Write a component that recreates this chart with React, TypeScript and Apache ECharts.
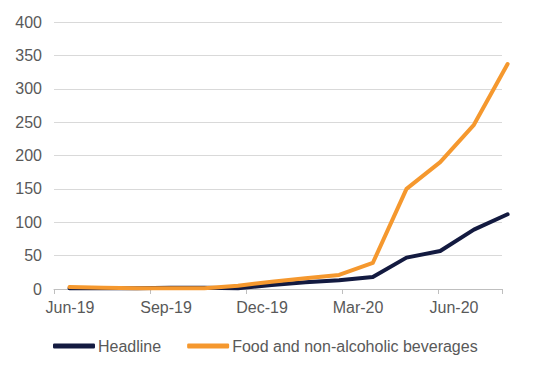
import React, { useEffect, useRef } from "react";
import * as echarts from "echarts";

const months = [
  "Jun-19", "Jul-19", "Aug-19", "Sep-19", "Oct-19", "Nov-19", "Dec-19",
  "Jan-20", "Feb-20", "Mar-20", "Apr-20", "May-20", "Jun-20", "Jul-20",
];
const headline = [1, 1, 1, 2, 2, 1, 6, 10, 13, 18, 47, 57, 89, 112];
const food = [3, 2, 1, 1, 1, 5, 11, 16, 21, 39, 150, 190, 246, 337];
const seriesNames = ["Headline", "Food and non-alcoholic beverages"];
const colors = ["#131A40", "#F5982E"];

export default function App() {
  const ref = useRef<HTMLDivElement>(null);
  useEffect(() => {
    if (!ref.current) return;
    const chart = echarts.init(ref.current, null, { renderer: "svg" });
    const font = "'Liberation Sans', Arial, sans-serif";
    const toPts = (arr: number[]) => arr.map((v, i) => [i, v]);
    const step = 33.7;
    const left = 54;
    const wideRight = 20;
    const xmin = -(69.5 - left) / step;
    const xmax = xmin + (547 - left - wideRight) / step;
    chart.setOption({
      animation: false,
      textStyle: { fontFamily: font },
      grid: [
        { left: left, right: 45, top: 22, bottom: 86, containLabel: false },
        { left: left, right: wideRight, top: 22, bottom: 86, containLabel: false },
      ],
      legend: {
        left: 53,
        top: 338,
        padding: 0,
        itemWidth: 42,
        itemHeight: 5,
        itemGap: 26,
        icon: "roundRect",
        textStyle: { color: "#595959", fontSize: 16, fontFamily: font, padding: [0, 0, 0, -2] },
        data: seriesNames,
      },
      xAxis: [
        {
          type: "category",
          gridIndex: 0,
          data: months,
          boundaryGap: true,
          axisLine: { lineStyle: { color: "#BFBFBF", width: 1 } },
          axisTick: { show: true, interval: 2, length: 5, lineStyle: { color: "#BFBFBF" } },
          axisLabel: { interval: 2, color: "#595959", fontSize: 16, fontFamily: font, margin: 10 },
          splitLine: { show: false },
        },
        {
          type: "value",
          gridIndex: 1,
          min: xmin,
          max: xmax,
          show: false,
          splitLine: { show: false },
        },
      ],
      yAxis: [
        {
          type: "value",
          gridIndex: 0,
          min: 0,
          max: 400,
          interval: 50,
          axisLine: { show: false },
          axisTick: { show: false },
          axisLabel: { color: "#595959", fontSize: 16, fontFamily: font, margin: 12 },
          splitLine: { lineStyle: { color: "#D9D9D9", width: 1 } },
        },
        {
          type: "value",
          gridIndex: 1,
          min: 0,
          max: 400,
          interval: 50,
          show: false,
          splitLine: { show: false },
        },
      ],
      series: [
        {
          name: seriesNames[0],
          type: "line",
          xAxisIndex: 1,
          yAxisIndex: 1,
          data: toPts(headline),
          symbol: "none",
          color: colors[0],
          lineStyle: { width: 4, color: colors[0], cap: "round", join: "round" },
        },
        {
          name: seriesNames[1],
          type: "line",
          xAxisIndex: 1,
          yAxisIndex: 1,
          data: toPts(food),
          symbol: "none",
          color: colors[1],
          lineStyle: { width: 4, color: colors[1], cap: "round", join: "round" },
        },
      ],
    });
    return () => chart.dispose();
  }, []);
  return <div ref={ref} style={{ width: 547, height: 375, position: "absolute", left: 0, top: 0 }} />;
}
